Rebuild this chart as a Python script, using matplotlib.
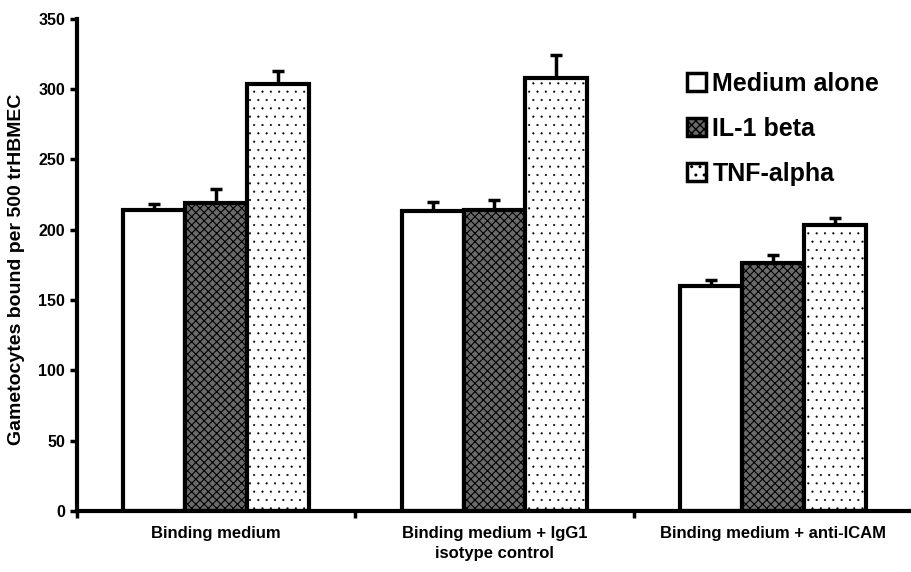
import numpy as np
import matplotlib.pyplot as plt

groups = ['Binding medium', 'Binding medium + IgG1\nisotype control', 'Binding medium + anti-ICAM']
series = ['Medium alone', 'IL-1 beta', 'TNF-alpha']
medium_alone = [214, 213, 160]
il1_beta = [219, 214, 176]
tnf_alpha = [304, 308, 203]
err_medium = [4, 7, 4]
err_il1 = [10, 7, 6]
err_tnf = [9, 16, 5]

plt.rcParams['font.family'] = ['Liberation Sans', 'DejaVu Sans']
plt.rcParams['font.weight'] = 'bold'


def main():
    fig = plt.figure(figsize=(9.12, 5.72), dpi=100)
    ax = fig.add_axes([0.0844, 0.107, 0.9156, 0.860])

    x = np.arange(len(groups))
    w = 0.222
    styles = [
        dict(facecolor='white', hatch=None, hlw=1.0),
        dict(facecolor='#6a6a6a', hatch='xxxx', hlw=0.8),
        dict(facecolor='white', hatch='..', hlw=0.3),
    ]
    vals = [medium_alone, il1_beta, tnf_alpha]
    errs = [err_medium, err_il1, err_tnf]
    for i, (v, e, st, lab) in enumerate(zip(vals, errs, styles, series)):
        pos = x + (i - 1) * w
        with plt.rc_context({'hatch.linewidth': st['hlw']}):
            ax.bar(pos, v, w, label=lab, edgecolor='black', linewidth=3,
                   facecolor=st['facecolor'], hatch=st['hatch'], zorder=2)
        ax.errorbar(pos, v, yerr=[np.zeros(len(e)), e], fmt='none',
                    ecolor='black', elinewidth=2.5, capsize=4, capthick=2.5, zorder=1)

    ax.set_xlim(-0.5, 2.5)
    ax.set_ylim(0, 350)
    ax.set_yticks(range(0, 351, 50))
    ax.set_xticks(x)
    ax.set_xticklabels(groups, fontsize=12, fontweight='bold', linespacing=1.4)
    ax.set_xticks([-0.5, 0.5, 1.5], minor=True)
    ax.tick_params(axis='x', which='major', length=0, pad=11)
    ax.tick_params(axis='x', which='minor', length=5, width=2.5, direction='out')
    ax.tick_params(axis='y', length=5, width=2.5, labelsize=11.5)
    for lbl in ax.get_yticklabels():
        lbl.set_fontweight('bold')

    for s in ['top', 'right']:
        ax.spines[s].set_visible(False)
    for s in ['left', 'bottom']:
        ax.spines[s].set_linewidth(3)

    ax.set_ylabel('Gametocytes bound per 500 trHBMEC', fontsize=14, fontweight='bold')
    ax.yaxis.set_label_coords(-0.062, 0.49)

    leg = ax.legend(loc='upper left', bbox_to_anchor=(0.731, 0.893), frameon=False,
                    prop={'weight': 'bold', 'size': 18}, handlelength=0.75,
                    handleheight=0.75, handletextpad=0.25, labelspacing=0.84,
                    borderpad=0, borderaxespad=0)
    for h in leg.legend_handles:
        h.set_linewidth(2.5)

    fig.savefig('out.png', dpi=100)


if __name__ == '__main__':
    main()
